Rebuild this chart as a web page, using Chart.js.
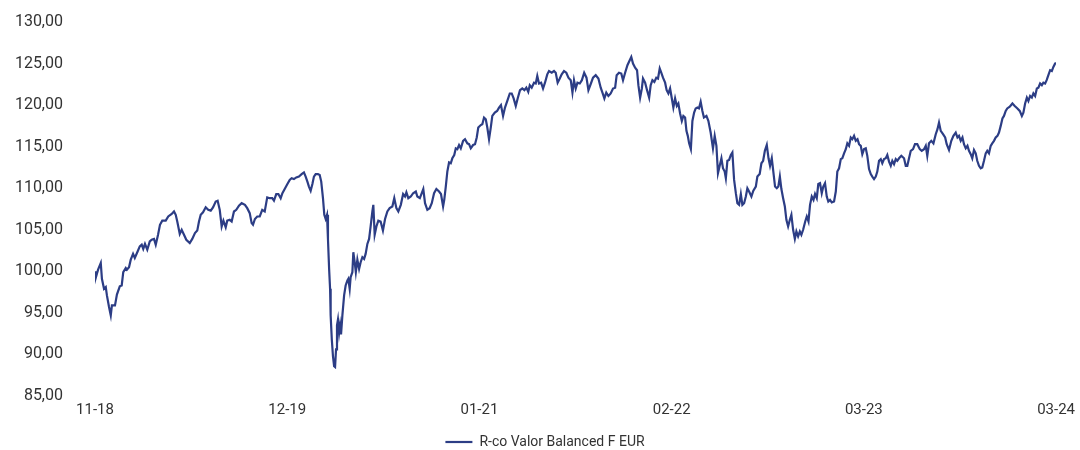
<!DOCTYPE html>
<html>
<head>
<meta charset="utf-8">
<script src="https://cdn.jsdelivr.net/npm/chart.js@4"></script>
<style>
  html, body { margin: 0; padding: 0; background: #fff; }
  .chartBox { width: 1080px; height: 450px; }
</style>
</head>
<body>
<div class="chartBox"><canvas id="dataChart"></canvas></div>
<script>
// position along the time axis (100 = one tick interval) and NAV values
const positions = [
  0.0, 0.5, 1.6, 3.0, 3.6, 4.7, 5.6, 6.2, 7.3, 8.2, 8.8, 10.4, 11.4, 12.9, 13.9, 14.7, 16.0, 16.6, 17.7, 18.6,
  19.8, 20.7, 22.0, 23.3, 24.3, 25.1, 26.0, 27.2, 28.5, 29.5, 30.7, 31.6, 32.8, 33.8, 35.0, 36.8, 38.1, 39.9, 41.1, 42.0,
  42.8, 44.1, 45.1, 46.3, 47.5, 49.3, 50.6, 52.0, 53.2, 54.1, 55.0, 56.2, 57.6, 58.9, 60.2, 61.4, 62.8, 63.8, 64.9, 65.9,
  66.8, 68.0, 68.8, 70.1, 71.1, 72.3, 73.5, 74.9, 76.3, 78.0, 79.2, 80.5, 81.5, 82.2, 83.2, 84.4, 85.7, 87.0, 88.3, 89.6,
  90.9, 92.2, 93.1, 94.3, 95.4, 96.6, 97.5, 98.9, 100.1, 101.3, 102.3, 103.5, 104.7, 106.1, 107.5, 108.7, 109.6, 110.5, 111.3, 112.2,
  113.1, 113.9, 114.8, 116.0, 116.9, 117.7, 118.6, 119.3, 120.0, 120.7, 121.2, 121.8, 122.3, 122.6, 123.2, 123.8, 124.4, 124.9, 125.4, 125.9,
  126.4, 127.0, 127.5, 128.0, 128.7, 129.6, 130.4, 131.3, 131.8, 132.5, 133.0, 133.9, 134.4, 135.1, 135.7, 136.5, 137.4, 138.2, 139.1, 140.0,
  140.8, 141.7, 142.6, 143.4, 144.3, 144.8, 145.5, 146.4, 147.4, 148.6, 149.8, 150.9, 152.1, 153.3, 154.7, 155.7, 156.8, 157.8, 159.1, 160.3,
  161.3, 162.0, 163.0, 164.3, 165.5, 166.9, 167.7, 169.0, 170.0, 170.8, 171.7, 172.9, 174.1, 175.2, 176.4, 177.6, 179.0, 180.0, 181.1, 181.7,
  182.5, 183.3, 184.2, 185.1, 185.9, 186.9, 187.7, 188.5, 189.4, 190.3, 191.5, 192.5, 193.7, 194.6, 195.5, 196.7, 197.7, 198.6, 199.4, 200.7,
  201.5, 202.4, 203.3, 204.1, 205.0, 205.9, 206.7, 208.0, 209.2, 210.2, 211.2, 212.3, 213.3, 214.5, 215.8, 216.8, 217.8, 218.9, 219.9, 221.1,
  222.3, 223.4, 224.4, 225.4, 226.2, 227.2, 228.4, 229.3, 230.1, 231.0, 232.1, 233.1, 234.1, 235.3, 236.2, 237.6, 238.8, 239.7, 240.7, 241.8,
  242.8, 244.0, 245.2, 246.3, 247.5, 248.4, 249.2, 250.1, 251.0, 252.2, 253.3, 254.5, 255.7, 256.7, 258.0, 259.1, 260.5, 261.9, 263.1, 264.0,
  265.0, 266.0, 267.1, 268.3, 269.5, 270.6, 271.4, 272.6, 273.8, 274.7, 275.8, 277.0, 278.2, 279.0, 279.9, 281.0, 282.0, 282.7, 283.6, 284.5,
  285.1, 286.2, 287.2, 288.3, 289.1, 290.0, 291.0, 292.0, 292.9, 293.8, 294.6, 295.5, 296.6, 297.4, 298.3, 299.2, 300.1, 300.9, 301.8, 302.7,
  303.5, 304.4, 305.3, 306.1, 307.0, 307.7, 308.4, 309.1, 310.0, 310.8, 311.7, 312.5, 313.4, 314.2, 315.1, 316.0, 316.8, 318.1, 319.1, 320.3,
  321.5, 322.4, 323.3, 324.1, 325.0, 325.9, 326.7, 327.6, 328.2, 329.0, 329.9, 330.8, 331.6, 332.5, 333.4, 334.2, 335.1, 336.0, 336.8, 337.7,
  338.6, 339.4, 340.3, 341.5, 342.5, 343.8, 344.6, 345.8, 346.7, 347.6, 348.5, 349.5, 350.4, 351.2, 352.1, 352.9, 353.8, 354.7, 355.5, 356.3,
  357.1, 358.0, 358.9, 359.7, 360.6, 361.5, 362.3, 363.2, 364.1, 364.9, 365.8, 366.7, 367.5, 368.4, 369.5, 370.3, 371.2, 372.0, 372.9, 373.8,
  374.6, 375.5, 376.3, 377.2, 378.1, 378.9, 379.8, 380.7, 381.5, 382.4, 383.3, 384.5, 385.4, 386.2, 387.1, 388.0, 388.8, 389.7, 390.6, 391.4,
  392.3, 393.2, 394.0, 394.9, 395.8, 396.7, 397.5, 398.4, 399.2, 400.1, 401.0, 401.8, 402.7, 403.6, 404.4, 405.3, 406.2, 407.0, 407.9, 408.8,
  409.6, 410.5, 411.4, 412.2, 413.1, 414.0, 414.8, 415.7, 416.6, 417.4, 418.3, 419.5, 420.9, 421.8, 422.6, 423.5, 424.4, 425.6, 426.6, 427.8,
  429.1, 430.1, 431.3, 432.2, 433.0, 433.9, 435.1, 436.2, 437.4, 438.3, 439.1, 440.0, 441.2, 442.3, 443.1, 444.3, 445.5, 446.6, 447.8, 448.7,
  449.5, 450.4, 451.3, 452.1, 453.0, 453.9, 454.7, 455.6, 456.4, 457.3, 458.2, 459.0, 459.9, 460.8, 461.6, 462.5, 463.4, 464.2, 465.1, 466.0,
  466.8, 467.7, 468.6, 469.5, 470.3, 471.2, 472.1, 472.9, 473.8, 474.6, 475.9, 477.3, 478.5, 479.9, 481.1, 482.2, 483.0, 483.9, 484.8, 485.6,
  486.5, 487.4, 488.2, 489.1, 490.0, 490.8, 491.7, 492.6, 493.4, 494.3, 495.1, 496.0, 496.9, 497.8, 498.6, 499.5, 500.0
];

const navValues = [
  100.0, 99.3, 100.2, 101.0, 99.1, 97.9, 98.1, 97.1, 95.7, 94.7, 95.9, 95.9, 97.2, 98.2, 98.3, 99.9, 100.4, 100.2, 100.5, 101.4,
  102.1, 101.6, 102.3, 103.0, 103.2, 102.7, 103.3, 102.6, 103.6, 103.8, 103.9, 103.2, 104.4, 105.6, 106.1, 106.1, 106.6, 106.9, 107.2, 106.8,
  106.0, 104.5, 105.0, 104.4, 103.8, 103.4, 103.9, 104.6, 104.9, 106.0, 106.8, 107.1, 107.7, 107.4, 107.3, 107.7, 108.4, 108.5, 107.4, 105.4,
  106.1, 105.3, 106.1, 106.2, 106.0, 107.2, 107.4, 107.9, 108.2, 108.0, 107.6, 107.0, 105.8, 105.6, 106.3, 106.6, 106.6, 107.4, 107.2, 108.9,
  108.8, 108.8, 108.5, 109.3, 109.3, 108.8, 109.4, 110.0, 110.5, 111.0, 111.2, 111.1, 111.3, 111.4, 111.7, 111.9, 111.4, 110.8, 110.2, 109.7,
  110.5, 111.4, 111.7, 111.7, 111.6, 110.8, 108.8, 106.8, 106.3, 106.8, 103.9, 100.3, 97.9, 94.7, 91.8, 89.8, 88.6, 88.5, 90.6, 93.5,
  94.2, 92.6, 93.5, 92.4, 94.7, 97.1, 98.3, 98.9, 99.1, 97.9, 99.3, 99.9, 102.3, 101.1, 99.9, 101.4, 100.3, 101.1, 101.7, 101.5,
  102.1, 103.3, 103.9, 105.4, 107.2, 108.0, 104.4, 105.4, 106.1, 106.0, 104.9, 106.3, 107.2, 107.6, 107.8, 108.8, 107.6, 107.2, 108.0, 109.3,
  109.0, 109.5, 108.8, 109.0, 109.4, 109.6, 109.0, 108.8, 109.4, 109.9, 108.2, 107.4, 107.6, 108.2, 109.4, 109.9, 109.6, 109.3, 107.8, 108.6,
  110.2, 112.0, 113.1, 113.0, 113.6, 114.0, 114.8, 114.7, 115.2, 114.8, 115.7, 115.9, 115.4, 115.3, 114.8, 115.2, 115.3, 116.1, 117.3, 117.6,
  117.7, 118.5, 118.3, 117.3, 115.9, 117.3, 118.7, 119.1, 119.3, 119.7, 120.0, 118.7, 119.7, 120.5, 121.4, 121.4, 120.8, 119.9, 120.8, 121.8,
  122.0, 121.8, 122.1, 121.6, 122.4, 122.1, 122.7, 122.6, 123.5, 122.6, 122.7, 122.0, 122.7, 123.7, 124.1, 123.9, 124.1, 123.9, 122.7, 123.2,
  123.7, 124.1, 123.9, 123.3, 123.0, 121.5, 123.0, 122.0, 122.7, 122.6, 123.0, 123.9, 123.3, 121.8, 122.6, 123.3, 123.6, 123.2, 122.1, 121.5,
  120.8, 121.5, 121.1, 121.4, 122.0, 122.1, 123.6, 123.9, 123.8, 123.0, 123.9, 124.8, 125.4, 125.8, 125.0, 124.5, 124.2, 122.4, 120.9, 122.0,
  123.2, 122.7, 121.8, 120.9, 122.4, 123.0, 122.8, 123.3, 123.2, 124.4, 123.9, 123.3, 122.7, 121.8, 121.4, 122.0, 120.8, 119.7, 120.8, 119.9,
  120.2, 119.0, 118.1, 118.7, 118.5, 116.9, 116.3, 115.4, 114.7, 118.1, 119.1, 119.6, 119.7, 119.6, 120.4, 119.3, 118.5, 118.7, 118.1, 116.7,
  114.8, 116.3, 115.1, 111.8, 112.7, 113.6, 112.4, 112.0, 111.2, 113.3, 113.4, 114.0, 114.3, 111.0, 109.4, 108.2, 108.0, 109.3, 108.0, 108.2,
  109.0, 110.0, 109.6, 109.0, 109.7, 110.2, 111.4, 111.7, 113.0, 113.3, 114.5, 115.2, 113.6, 112.7, 113.6, 112.0, 110.2, 110.0, 110.2, 111.4,
  109.9, 108.8, 107.8, 106.2, 105.4, 106.2, 106.8, 105.0, 103.9, 104.8, 104.2, 104.8, 104.4, 105.0, 106.0, 106.6, 106.0, 108.0, 109.0, 108.6,
  109.3, 108.8, 110.5, 110.6, 109.4, 110.2, 110.6, 109.0, 108.4, 108.6, 108.3, 108.4, 109.6, 112.0, 112.4, 113.5, 113.6, 114.2, 114.7, 115.4,
  115.1, 116.1, 115.9, 116.3, 115.7, 115.9, 115.3, 115.1, 114.1, 114.7, 114.8, 113.9, 112.3, 111.7, 111.4, 111.1, 111.4, 112.0, 113.3, 113.5,
  113.0, 113.5, 113.6, 114.0, 113.2, 112.7, 113.3, 112.9, 113.5, 113.3, 113.6, 113.9, 113.6, 112.7, 112.7, 113.6, 114.5, 114.7, 115.3, 115.3,
  114.7, 114.5, 114.7, 115.1, 113.9, 115.4, 115.7, 115.4, 116.5, 117.1, 117.9, 116.9, 116.5, 116.1, 115.3, 114.6, 115.7, 116.3, 116.7, 116.1,
  116.3, 115.7, 116.1, 115.3, 114.8, 115.1, 114.5, 114.1, 113.6, 114.6, 114.2, 113.3, 112.7, 112.4, 112.5, 113.3, 114.2, 114.5, 114.2, 115.1,
  115.4, 115.7, 116.1, 116.3, 116.7, 117.5, 118.4, 118.7, 119.3, 119.6, 119.8, 120.2, 119.9, 119.6, 119.3, 118.7, 119.1, 120.2, 120.9, 120.5,
  121.1, 120.9, 121.4, 121.1, 122.0, 122.1, 122.6, 122.4, 122.7, 122.6, 123.0, 123.6, 124.2, 124.1, 124.6, 125.0, 125.1
];

const tickLabels = ['11-18', '12-19', '01-21', '02-22', '03-23', '03-24'];
const seriesName = 'R-co Valor Balanced F EUR';

const fmt = v => v.toFixed(2).replace('.', ',');

const initChart = () => {
    const ctx = document.getElementById('dataChart').getContext('2d');
    const points = positions.map((x, i) => ({ x, y: navValues[i] }));

    new Chart(ctx, {
        type: 'line',
        data: {
            datasets: [{
                label: seriesName,
                data: points,
                fill: false,
                borderColor: '#2c3d85',
                backgroundColor: '#2c3d85',
                borderWidth: 2.2,
                pointRadius: 0,
                tension: 0,
            }]
        },
        options: {
            responsive: true,
            maintainAspectRatio: false,
            animation: false,
            layout: { padding: { top: 22, right: 0, left: 10, bottom: -9 } },
            scales: {
                x: {
                    type: 'linear',
                    min: 0,
                    max: 500,
                    grid: { display: false, drawTicks: false },
                    border: { display: false },
                    ticks: {
                        stepSize: 100,
                        autoSkip: false,
                        maxRotation: 0,
                        padding: 5,
                        color: '#333',
                        font: { family: 'Roboto', size: 15 },
                        callback: v => tickLabels[Math.round(v / 100)] || ''
                    }
                },
                y: {
                    min: 85,
                    max: 130,
                    // no visible tick marks, the tick length only keeps the labels away from the line
                    grid: { display: false, drawTicks: true, tickLength: 28 },
                    border: { display: false },
                    afterFit: scale => { scale.width = 85; },
                    ticks: {
                        stepSize: 5,
                        padding: 4,
                        color: '#333',
                        font: { family: 'Roboto', size: 16 },
                        callback: v => fmt(v)
                    }
                }
            },
            plugins: {
                legend: {
                    position: 'bottom',
                    labels: {
                        usePointStyle: true,
                        pointStyle: 'line',
                        pointStyleWidth: 27,
                        color: '#333',
                        padding: 11,
                        font: { family: 'Roboto', size: 14 }
                    }
                },
                tooltip: { enabled: false }
            }
        }
    });
};

initChart();
</script>
</body>
</html>
